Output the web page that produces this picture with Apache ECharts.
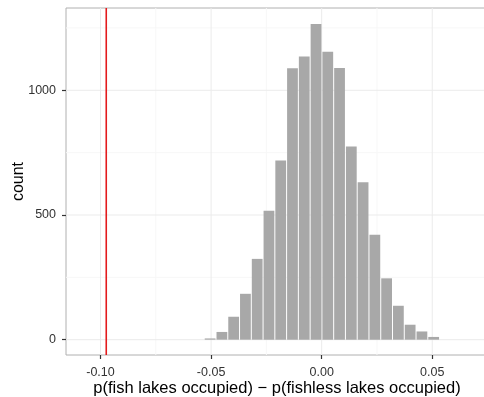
<!DOCTYPE html>
<html><head><meta charset="utf-8">
<script src="https://cdn.jsdelivr.net/npm/echarts@6/dist/echarts.min.js"></script>
<style>html,body{margin:0;padding:0;background:#fff}#c{width:484px;height:397px}</style>
</head><body><div id="c"></div>
<script>
const binStart = -0.0531;
const binWidth = 0.00532;
const counts = [5,31,92,184,324,517,719,1088,1136,1266,1155,1089,775,631,421,246,136,60,33,11];
const xTicks = [-0.10, -0.05, 0.00, 0.05];
const xMinor = [-0.075, -0.025, 0.025];
const yTicks = [0, 500, 1000];
const yMinor = [250, 750, 1250];
const observed = -0.0974;
const xMin = -0.1156, xMax = 0.0752, yMin = -61.4, yMax = 1330;

const bins = counts.map((c, i) => [binStart + i * binWidth, binStart + (i + 1) * binWidth, c]);

const series = [];
function vline(x, color, width, z) {
  series.push({type:'line', data:[[x, yMin],[x, yMax]], symbol:'none', silent:true, z:z, animation:false,
    lineStyle:{color:color, width:width}});
}
function hline(y, color, width, z) {
  series.push({type:'line', data:[[xMin, y],[xMax, y]], symbol:'none', silent:true, z:z, animation:false,
    lineStyle:{color:color, width:width}});
}
xMinor.forEach(x => vline(x, '#f7f7f7', 1, 1));
yMinor.forEach(y => hline(y, '#f7f7f7', 1, 1));
xTicks.forEach(x => vline(x, '#ebebeb', 1, 1));
yTicks.forEach(y => hline(y, '#ebebeb', 1, 1));

series.push({
  type:'custom', z:3, animation:false, data:bins,
  renderItem(params, api) {
    const p0 = api.coord([api.value(0), 0]);
    const p1 = api.coord([api.value(1), api.value(2)]);
    return {type:'rect', shape:{x:p0[0] + 0.5, y:p1[1], width:p1[0]-p0[0]-1, height:Math.max(p0[1]-p1[1], 1)},
      style:{fill:'#a8a8a8'}};
  }
});
vline(observed, '#e31a1c', 1.6, 5);

const chart = echarts.init(document.getElementById('c'), null, {renderer:'canvas'});
chart.setOption({
  backgroundColor:'#fff',
  animation:false,
  grid:{left:66, top:8, right:-4, bottom:42, show:true, borderColor:'#b0b0b0', borderWidth:1, backgroundColor:'transparent',
    containLabel:false, outerBoundsMode:'none'},
  xAxis:{type:'value', min:xMin, max:xMax,
    name:'p(fish lakes occupied) \u2212 p(fishless lakes occupied)', nameLocation:'middle', nameGap:25, nameMoveOverlap:false,
    nameTextStyle:{fontFamily:'Liberation Sans', fontSize:16.5, color:'#000', verticalAlign:'top'},
    axisLine:{show:false, onZero:false},
    axisTick:{show:true, length:4, lineStyle:{color:'#333', width:1.2}, customValues:xTicks},
    axisLabel:{customValues:xTicks, fontFamily:'Liberation Sans', fontSize:12.5, color:'#333', margin:11,
      formatter:v => v.toFixed(2)},
    splitLine:{show:false}},
  yAxis:{type:'value', min:yMin, max:yMax,
    name:'count', nameLocation:'middle', nameGap:39, nameRotate:90, nameMoveOverlap:false,
    nameTextStyle:{fontFamily:'Liberation Sans', fontSize:16, color:'#000'},
    axisLine:{show:false, onZero:false},
    axisTick:{show:true, length:4, lineStyle:{color:'#333', width:1.2}, customValues:yTicks},
    axisLabel:{customValues:yTicks, fontFamily:'Liberation Sans', fontSize:12.5, color:'#333', margin:10,
      formatter:v => String(v)},
    splitLine:{show:false}},
  series:series
});
</script></body></html>
